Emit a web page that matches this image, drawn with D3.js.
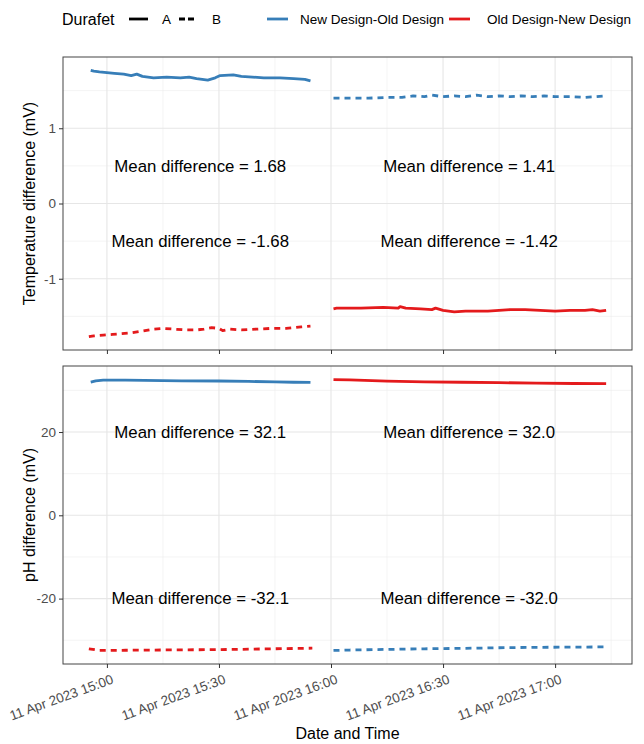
<!DOCTYPE html>
<html>
<head>
<meta charset="utf-8">
<script src="https://cdn.jsdelivr.net/npm/d3@7"></script>
<style>
  html, body { margin: 0; padding: 0; background: #fff; }
  svg { display: block; font-family: "Liberation Sans", Arial, Helvetica, sans-serif; }
</style>
</head>
<body>
<svg id="chart" width="644" height="744"></svg>
<script>
// ---------------- DATA ----------------
// Temperature difference (mV)
const tempNewOldA_time = ["14:55:40","14:56:30","14:58:00","15:02:00","15:04:30","15:06:30","15:08:00","15:09:30","15:12:30","15:16:00","15:19:40","15:22:00","15:24:00","15:27:00","15:29:00","15:30:20","15:33:50","15:36:00","15:39:00","15:42:00","15:46:20","15:50:00","15:53:00","15:54:30"];
const tempNewOldA_val  = [1.77,1.76,1.75,1.73,1.72,1.70,1.72,1.69,1.67,1.68,1.67,1.68,1.66,1.64,1.67,1.70,1.71,1.69,1.68,1.67,1.67,1.66,1.65,1.63];

const tempOldNewB_time = ["14:55:10","14:56:30","14:59:00","15:01:30","15:04:00","15:06:30","15:09:00","15:12:30","15:15:00","15:18:00","15:21:00","15:24:00","15:26:00","15:28:00","15:30:00","15:31:00","15:33:00","15:36:00","15:40:00","15:44:00","15:48:00","15:52:00","15:54:30"];
const tempOldNewB_val  = [-1.77,-1.76,-1.75,-1.74,-1.73,-1.72,-1.70,-1.67,-1.66,-1.67,-1.68,-1.68,-1.67,-1.65,-1.66,-1.69,-1.67,-1.68,-1.67,-1.66,-1.66,-1.64,-1.63];

const tempNewOldB_time = ["16:00:40","16:05:00","16:10:00","16:15:00","16:19:00","16:22:00","16:25:00","16:27:00","16:30:00","16:33:00","16:36:00","16:39:00","16:42:00","16:45:00","16:48:00","16:51:00","16:54:00","16:57:00","17:00:00","17:04:00","17:08:00","17:11:00","17:13:40"];
const tempNewOldB_val  = [1.40,1.40,1.40,1.41,1.41,1.43,1.42,1.44,1.42,1.43,1.42,1.44,1.42,1.43,1.42,1.43,1.42,1.43,1.42,1.42,1.41,1.42,1.43];

const tempOldNewA_time = ["16:00:40","16:01:30","16:08:00","16:14:00","16:18:00","16:18:30","16:20:00","16:24:00","16:27:00","16:28:00","16:30:00","16:33:00","16:36:00","16:39:00","16:42:00","16:45:00","16:48:00","16:52:00","16:56:00","17:00:00","17:04:00","17:08:00","17:10:00","17:12:00","17:13:40"];
const tempOldNewA_val  = [-1.40,-1.39,-1.39,-1.38,-1.39,-1.37,-1.39,-1.40,-1.41,-1.39,-1.42,-1.44,-1.43,-1.43,-1.43,-1.42,-1.41,-1.41,-1.42,-1.43,-1.42,-1.42,-1.41,-1.43,-1.42];

// pH difference (mV)
const phNewOldA_time = ["14:55:40","14:57:00","14:59:00","15:05:00","15:15:00","15:20:00","15:30:00","15:38:00","15:45:00","15:50:00","15:54:30"];
const phNewOldA_val  = [32.0,32.3,32.45,32.45,32.35,32.3,32.25,32.15,32.05,31.95,31.9];
const phOldNewB_time = ["14:55:10","14:58:00","15:05:00","15:20:00","15:30:00","15:38:00","15:48:00","15:52:00","15:55:00"];
const phOldNewB_val  = [-32.05,-32.45,-32.4,-32.3,-32.25,-32.15,-32.0,-31.95,-31.9];
const phOldNewA_time = ["16:00:40","16:05:00","16:15:00","16:25:00","16:35:00","16:45:00","16:55:00","17:05:00","17:13:40"];
const phOldNewA_val  = [32.6,32.5,32.2,32.05,31.95,31.85,31.75,31.65,31.6];
const phNewOldB_time = ["16:00:40","16:05:00","16:15:00","16:25:00","16:35:00","16:45:00","16:55:00","17:05:00","17:13:40"];
const phNewOldB_val  = [-32.45,-32.35,-32.2,-32.05,-31.95,-31.8,-31.7,-31.65,-31.6];

// Annotations
const annTime = ["15:25:00","16:37:00","15:25:00","16:37:00"];
const tempAnnY = [0.5, 0.5, -0.5, -0.5];
const tempAnnText = ["Mean difference = 1.68","Mean difference = 1.41","Mean difference = -1.68","Mean difference = -1.42"];
const phAnnY = [20, 20, -20, -20];
const phAnnText = ["Mean difference = 32.1","Mean difference = 32.0","Mean difference = -32.1","Mean difference = -32.0"];

// Ticks
const xTickTimes = ["15:00:00","15:30:00","16:00:00","16:30:00","17:00:00"];
const xMinorTimes = ["15:15:00","15:45:00","16:15:00","16:45:00","17:15:00"];
const tempTicks = [-1, 0, 1];
const tempMinor = [-1.5, -0.5, 0.5, 1.5];
const phTicks = [-20, 0, 20];
const phMinor = [-30, -10, 10, 30];

const groups = ["New Design-Old Design", "Old Design-New Design"];
const durafets = ["A", "B"];

// ---------------- HELPERS ----------------
const parseT = s => d3.timeParse("%Y-%m-%d %H:%M:%S")("2023-04-11 " + s);
const mk = (times, vals) => times.map((t, i) => ({t: parseT(t), v: vals[i]}));

const tempSeries = [
  {g: 0, d: "A", data: mk(tempNewOldA_time, tempNewOldA_val)},
  {g: 1, d: "B", data: mk(tempOldNewB_time, tempOldNewB_val)},
  {g: 0, d: "B", data: mk(tempNewOldB_time, tempNewOldB_val)},
  {g: 1, d: "A", data: mk(tempOldNewA_time, tempOldNewA_val)}
];
const phSeries = [
  {g: 0, d: "A", data: mk(phNewOldA_time, phNewOldA_val)},
  {g: 1, d: "B", data: mk(phOldNewB_time, phOldNewB_val)},
  {g: 1, d: "A", data: mk(phOldNewA_time, phOldNewA_val)},
  {g: 0, d: "B", data: mk(phNewOldB_time, phNewOldB_val)}
];

const colors = d3.scaleOrdinal().domain(groups).range(["#377EB8", "#E41A1C"]);
const dashes = {A: null, B: "6,5"};

const svg = d3.select("#chart");
const L = 63, R = 632;
const panels = [
  {top: 57, bottom: 350, series: tempSeries, ticks: tempTicks, minor: tempMinor,
   ann: tempAnnY, annText: tempAnnText, title: "Temperature difference (mV)", labels: false, fmt: d => d},
  {top: 366, bottom: 664, series: phSeries, ticks: phTicks, minor: phMinor,
   ann: phAnnY, annText: phAnnText, title: "pH difference (mV)", labels: true, fmt: d => d}
];

// x extent with 5% expansion
const allT = tempSeries.concat(phSeries).flatMap(s => s.data.map(p => +p.t));
const tMin = d3.min(allT), tMax = d3.max(allT), tPad = (tMax - tMin) * 0.05;
const x = d3.scaleTime().domain([new Date(tMin - tPad), new Date(tMax + tPad)]).range([L, R]);

const fmtX = d3.timeFormat("%d %b %Y %H:%M");

panels.forEach(p => {
  const vals = p.series.flatMap(s => s.data.map(q => q.v));
  const vMin = d3.min(vals), vMax = d3.max(vals), vPad = (vMax - vMin) * 0.05;
  const y = d3.scaleLinear().domain([vMin - vPad, vMax + vPad]).range([p.bottom, p.top]);
  const g = svg.append("g");

  g.append("rect").attr("x", L).attr("y", p.top).attr("width", R - L).attr("height", p.bottom - p.top).attr("fill", "#fff");

  // grid minor
  g.selectAll(".ym").data(p.minor).join("line")
    .attr("x1", L).attr("x2", R).attr("y1", d => y(d)).attr("y2", d => y(d))
    .attr("stroke", "#ededed").attr("stroke-width", 0.6);
  g.selectAll(".xm").data(xMinorTimes.map(parseT).filter(d => x(d) > L && x(d) < R)).join("line")
    .attr("y1", p.top).attr("y2", p.bottom).attr("x1", d => x(d)).attr("x2", d => x(d))
    .attr("stroke", "#ededed").attr("stroke-width", 0.6);
  // grid major
  g.selectAll(".yM").data(p.ticks).join("line")
    .attr("x1", L).attr("x2", R).attr("y1", d => y(d)).attr("y2", d => y(d))
    .attr("stroke", "#e6e6e6").attr("stroke-width", 1.1);
  g.selectAll(".xM").data(xTickTimes.map(parseT)).join("line")
    .attr("y1", p.top).attr("y2", p.bottom).attr("x1", d => x(d)).attr("x2", d => x(d))
    .attr("stroke", "#e6e6e6").attr("stroke-width", 1.1);

  // lines
  const line = d3.line().x(d => x(d.t)).y(d => y(d.v));
  g.selectAll(".series").data(p.series).join("path")
    .attr("d", s => line(s.data))
    .attr("fill", "none")
    .attr("stroke", s => colors(groups[s.g]))
    .attr("stroke-width", 2.8)
    .attr("stroke-linejoin", "round")
    .attr("stroke-dasharray", s => dashes[s.d]);

  // annotations
  g.selectAll(".ann").data(p.ann).join("text")
    .attr("x", (d, i) => x(parseT(annTime[i])))
    .attr("y", d => y(d))
    .attr("dy", "0.35em")
    .attr("text-anchor", "middle")
    .attr("font-size", 16.8)
    .attr("fill", "#000")
    .text((d, i) => p.annText[i]);

  // border
  g.append("rect").attr("x", L).attr("y", p.top).attr("width", R - L).attr("height", p.bottom - p.top)
    .attr("fill", "none").attr("stroke", "#444").attr("stroke-width", 1);

  // y axis
  const ya = d3.axisLeft(y).tickValues(p.ticks).tickSize(4).tickPadding(3).tickFormat(p.fmt);
  const yg = g.append("g").attr("transform", `translate(${L},0)`).call(ya);
  yg.select(".domain").remove();
  yg.selectAll("line").attr("stroke", "#333");
  yg.selectAll("text").attr("fill", "#4d4d4d").attr("font-size", 13.5).style("font-family", "Liberation Sans, Arial, sans-serif");

  // x axis
  const xa = d3.axisBottom(x).tickValues(xTickTimes.map(parseT)).tickSize(4).tickFormat(p.labels ? fmtX : "");
  const xg = g.append("g").attr("transform", `translate(0,${p.bottom})`).call(xa);
  xg.select(".domain").remove();
  xg.selectAll("line").attr("stroke", "#333");
  if (p.labels) {
    xg.selectAll("text")
      .attr("fill", "#4d4d4d").attr("font-size", 13.5)
      .style("font-family", "Liberation Sans, Arial, sans-serif")
      .attr("text-anchor", "end")
      .attr("y", 0).attr("dy", 0)
      .attr("transform", "translate(7,19) rotate(-20)");
  }

  // y title
  svg.append("text")
    .attr("transform", `translate(35,${(p.top + p.bottom) / 2}) rotate(-90)`)
    .attr("text-anchor", "middle")
    .attr("font-size", 16)
    .attr("fill", "#000")
    .text(p.title);
});

// x title
svg.append("text").attr("x", (L + R) / 2).attr("y", 739).attr("text-anchor", "middle")
  .attr("font-size", 16).attr("fill", "#000").text("Date and Time");

// ---------------- LEGEND ----------------
const lg = svg.append("g");
lg.append("text").attr("x", 62).attr("y", 25).attr("font-size", 16).attr("fill", "#000").text("Durafet");
const durPos = [{x1: 129, x2: 148, tx: 162}, {x1: 179, x2: 194, tx: 212}];
durafets.forEach((d, i) => {
  lg.append("line").attr("x1", durPos[i].x1).attr("x2", durPos[i].x2).attr("y1", 19).attr("y2", 19)
    .attr("stroke", "#000").attr("stroke-width", 2.8).attr("stroke-dasharray", d === "B" ? "6,3" : null);
  lg.append("text").attr("x", durPos[i].tx).attr("y", 19).attr("dy", "0.35em").attr("font-size", 13.5)
    .attr("fill", "#000").text(d);
});
const grpPos = [{x1: 267, x2: 288, tx: 300}, {x1: 449, x2: 470, tx: 487}];
groups.forEach((gname, i) => {
  lg.append("line").attr("x1", grpPos[i].x1).attr("x2", grpPos[i].x2).attr("y1", 19).attr("y2", 19)
    .attr("stroke", colors(gname)).attr("stroke-width", 2.8);
  lg.append("text").attr("x", grpPos[i].tx).attr("y", 19).attr("dy", "0.35em").attr("font-size", 13.5)
    .attr("fill", "#000").text(gname);
});
</script>
</body>
</html>
